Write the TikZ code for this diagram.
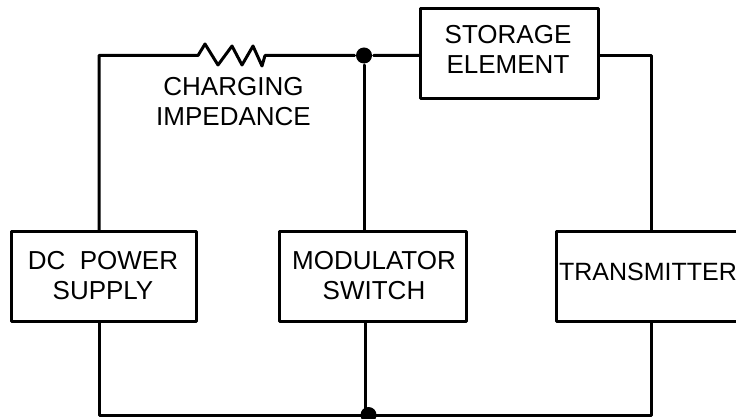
\documentclass[tikz,border=0pt]{standalone}
\usepackage{fontspec}
\setmainfont{Liberation Sans}
\begin{document}
\begin{tikzpicture}[x=1pt,y=-1pt,line width=3pt,line join=round,line cap=round,
  blockbox/.style={draw,rectangle,anchor=north west,inner sep=0pt},
  lbl/.style={inner sep=0pt,align=center,font=\fontsize{26}{30}\selectfont},
  junction/.style={circle,fill=black,draw=none,minimum size=16pt,inner sep=0pt}]
\useasboundingbox (0,0) rectangle (736,419);
\clip (0,0) rectangle (736,419);
\node[blockbox,minimum width=178pt,minimum height=90pt] (store) at (419,7) {};
\node[blockbox,minimum width=185pt,minimum height=90pt] (dc) at (10,230) {};
\node[blockbox,minimum width=187pt,minimum height=90pt] (mod) at (278,230) {};
\node[blockbox,minimum width=200pt,minimum height=90pt] (tx) at (555,230) {};
\node[lbl] (tstore) at (508,49) {STORAGE\\ELEMENT};
\node[lbl] (tdc) at (103,275.5) {DC\ \ POWER\\SUPPLY};
\node[lbl] (tmod) at (374,276) {MODULATOR\\SWITCH};
\node[lbl,font=\fontsize{25}{30}\selectfont] (ttx) at (648,272) {TRANSMITTER};
\node[lbl] (tchg) at (233.5,102) {CHARGING\\IMPEDANCE};
\node[junction] (j1) at (364,55.5) {};
\node[junction] (j2) at (368.5,415) {};
\coordinate (c1) at (99,55.5);
\coordinate (r1) at (198,55.5);
\coordinate (r2) at (265,55.5);
\coordinate (c2) at (651,55.5);
\coordinate (m1) at (365,415);
\draw (c1 |- dc.north) -- (c1) -- (r1) -- (205,44) -- (218,65) -- (232,46) -- (242,65) -- (253,46) -- (262,66) -- (r2) -- (j1) -- (store.west |- j1);
\draw (j1) -- (j1 |- mod.north);
\draw (store.east |- j1) -- (c2) -- (c2 |- tx.north);
\draw (c1 |- dc.south) -- (c1 |- j2) -- (c2 |- j2) -- (c2 |- tx.south);
\draw (m1 |- mod.south) -- (m1);
\end{tikzpicture}
\end{document}
